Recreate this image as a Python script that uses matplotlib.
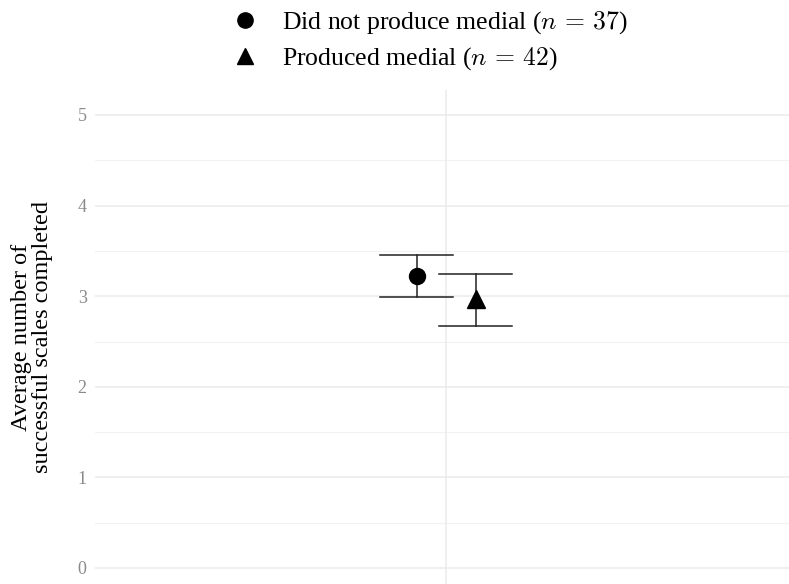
import numpy as np
import matplotlib.pyplot as plt
from matplotlib.lines import Line2D

plt.rcParams['font.family'] = ['Liberation Serif', 'DejaVu Serif']
plt.rcParams['mathtext.fontset'] = 'cm'

# group summaries: mean and error bar limits
groups = ['Did not produce medial ($n\\,=\\,37$)', 'Produced medial ($n\\,=\\,42$)']
means = [3.22, 2.97]
lower = [2.99, 2.67]
upper = [3.45, 3.24]
markers = ['o', '^']
offsets = [-0.295, 0.295]

fig = plt.figure(figsize=(7.89, 5.84), dpi=100)
ax = fig.add_axes([95 / 789, 0, 1 - 95 / 789, 494 / 584])

ax.set_xlim(1 - 3.51, 1 + 3.43)
ax.set_ylim(-16 / 90.6, 5 + 25 / 90.6)

# grid
for y in np.arange(0, 5.01, 1):
    ax.axhline(y, color='#ebebeb', lw=1.1, zorder=0)
for y in np.arange(0.5, 5, 1):
    ax.axhline(y, color='#f2f2f2', lw=0.8, zorder=0)
ax.axvline(1, color='#ebebeb', lw=1.1, zorder=0)

handles = []
for i in range(2):
    x = 1 + offsets[i]
    ax.plot([x, x], [lower[i], upper[i]], color='#222222', lw=1.1, zorder=2)
    for yv in (lower[i], upper[i]):
        ax.plot([x - 0.363, x + 0.363], [yv, yv], color='#222222', lw=1.1, zorder=2)
    ms = 11.5 if markers[i] == 'o' else 13
    ax.plot(x, means[i], marker=markers[i], color='black', ms=ms, ls='none', zorder=3)
    handles.append(Line2D([], [], marker=markers[i], color='black', ls='none', ms=11))

for s in ax.spines.values():
    s.set_visible(False)
ax.set_xticks([])
ax.set_yticks(range(6))
ax.tick_params(axis='y', length=0, pad=6, labelsize=13, labelcolor='#8a8a8a')
ax.set_ylabel('Average number of\nsuccessful scales completed', fontsize=17.5,
              linespacing=0.95, labelpad=18)

fig.legend(handles, groups, loc='upper left', bbox_to_anchor=(214 / 789, 1.008),
           frameon=False, fontsize=18.5, handletextpad=0.8, labelspacing=0.35,
           borderaxespad=0.15, handlelength=1.3)

fig.savefig('out.png', dpi=100)
